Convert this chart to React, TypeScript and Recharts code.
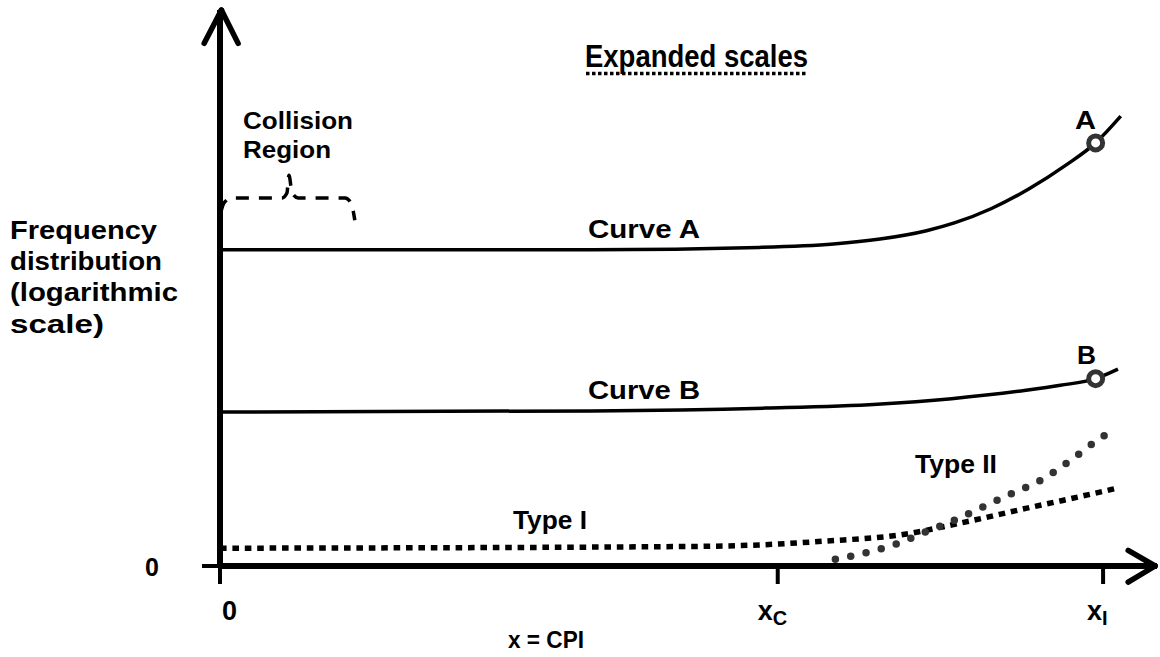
import { ComposedChart, Line, XAxis, YAxis, ReferenceLine, ReferenceDot, Customized } from "recharts";

// x = CPI (arbitrary units, xC = 60, xI = 95), y = frequency on a log scale (arbitrary units)
const X_TICKS = [0, 60, 95];
const X_TICK_LABELS = [["0", ""], ["x", "C"], ["x", "I"]];
const Y_TICKS = [0];

const CURVE_A_X = [0, 40, 58, 66, 71, 76, 79, 83, 87, 91, 94.2, 96.9];
const CURVE_A_Y = [56.9, 56.9, 57.3, 57.9, 58.8, 60.3, 61.7, 64.3, 67.8, 72.1, 76.1, 80.9];

const CURVE_B_X = [0, 40, 58.7, 70.7, 78.7, 86.7, 90.4, 94.2, 96.6];
const CURVE_B_Y = [27.7, 27.9, 28.4, 29.1, 30.1, 31.6, 32.5, 33.7, 35.4];

const TYPE1_X = [0, 50, 58.1, 65.3, 73.2, 79.6, 86.8, 90.4, 96.5];
const TYPE1_Y = [3.2, 3.5, 3.8, 4.5, 5.6, 7.7, 10.4, 11.7, 14.0];

const TYPE2_X = [66.2, 69.5, 72.8, 76.0, 79.2, 82.3, 85.4, 88.5, 91.4, 94.2, 95.6];
const TYPE2_Y = [1.2, 2.4, 4.0, 6.2, 8.4, 10.8, 13.2, 15.6, 18.9, 22.4, 24.0];

// bracket over the collision region
const COLL_X = [0.1, 0.43, 1.29, 6.67, 7.2, 7.42, 7.75, 8.4, 13.45, 14.1, 14.5];
const COLL_Y = [63.7, 65.3, 66.2, 66.2, 67.1, 70.3, 67.1, 66.2, 66.2, 65.3, 62.2];

const POINT_A = { x: 94.2, y: 76.1 };
const POINT_B = { x: 94.2, y: 33.7 };

const zip = (xs: number[], ys: number[]) => xs.map((x, i) => ({ x, y: ys[i] }));

const curveA = zip(CURVE_A_X, CURVE_A_Y);
const curveB = zip(CURVE_B_X, CURVE_B_Y);
const type1 = zip(TYPE1_X, TYPE1_Y);
const type2 = zip(TYPE2_X, TYPE2_Y);
const collision = zip(COLL_X, COLL_Y);

const FONT = "'Liberation Sans', Arial, Helvetica, sans-serif";

const T = ({ x, y, fs, w, children }: any) => (
  <text x={x} y={y} fontSize={fs} fontWeight="bold" fontFamily={FONT} fill="#000"
    textLength={w} lengthAdjust="spacingAndGlyphs">
    {children}
  </text>
);

const Annotations = () => (
  <g>
    <T x={585} y={67} fs={31} w={223}>Expanded scales</T>
    <line x1={586} x2={808} y1={73.5} y2={73.5} stroke="#000" strokeWidth={3.5} strokeDasharray="3.5 2.5" />
    <T x={243} y={129} fs={24} w={110}>Collision</T>
    <T x={243} y={158} fs={24} w={88}>Region</T>
    <T x={10} y={239} fs={26} w={147}>Frequency</T>
    <T x={10} y={270} fs={26} w={152}>distribution</T>
    <T x={10} y={301} fs={26} w={168}>(logarithmic</T>
    <T x={10} y={333} fs={26} w={94}>scale)</T>
    <T x={588} y={238} fs={25} w={112}>Curve A</T>
    <T x={588} y={399} fs={25} w={112}>Curve B</T>
    <T x={513} y={529} fs={25} w={74}>Type I</T>
    <T x={915} y={473} fs={25} w={82}>Type II</T>
    <T x={1075} y={129} fs={26} w={21}>A</T>
    <T x={1077} y={364} fs={26} w={19}>B</T>
    <T x={508} y={648} fs={24} w={76}>x = CPI</T>
  </g>
);

const XTick = ({ x, y, payload }: any) => {
  const i = X_TICKS.indexOf(payload.value);
  const [main, sub] = X_TICK_LABELS[i] || ["", ""];
  const dx = [2, -20, -16][i] ?? 0;
  return (
    <text x={x + dx} y={y + 34} fontSize={27} fontWeight="bold" fontFamily={FONT} fill="#000">
      {main}
      {sub && <tspan fontSize={20} dy={5}>{sub}</tspan>}
    </text>
  );
};

const YTick = ({ x, y, payload }: any) => (
  <text x={x - 41} y={y + 10} fontSize={25} fontWeight="bold" fontFamily={FONT} fill="#000" textAnchor="end">
    {payload.value}
  </text>
);

const arrow = { stroke: "#000", strokeWidth: 5.5, strokeLinecap: "round" as const, ifOverflow: "visible" as const };

export default function App() {
  return (
    <div style={{ position: "absolute", left: 0, top: 0, background: "#fff" }}>
      <ComposedChart width={1160} height={657} margin={{ top: 10, right: 3, left: 160, bottom: 31 }}>
        <XAxis type="number" dataKey="x" domain={[0, 100.8]} ticks={X_TICKS} allowDataOverflow
          height={60} tickSize={18} axisLine={{ stroke: "#000", strokeWidth: 6 }}
          tickLine={{ stroke: "#000", strokeWidth: 4 }} tick={<XTick />} interval={0} />
        <YAxis type="number" dataKey="y" domain={[0, 100]} ticks={Y_TICKS} allowDataOverflow
          width={60} tickSize={18} axisLine={{ stroke: "#000", strokeWidth: 6 }}
          tickLine={{ stroke: "#000", strokeWidth: 4 }} tick={<YTick />} />

        <Line data={collision} dataKey="y" type="monotone" stroke="#000" strokeWidth={3.5}
          strokeDasharray="13 10" dot={false} activeDot={false} isAnimationActive={false} />
        <Line data={curveA} dataKey="y" type="monotone" stroke="#000" strokeWidth={3.5}
          dot={false} activeDot={false} isAnimationActive={false} />
        <Line data={curveB} dataKey="y" type="monotone" stroke="#000" strokeWidth={3.5}
          dot={false} activeDot={false} isAnimationActive={false} />
        <Line data={type1} dataKey="y" type="monotone" stroke="#000" strokeWidth={5.5}
          strokeDasharray="6.6 5.8" dot={false} activeDot={false} isAnimationActive={false} />
        <Line data={type2} dataKey="y" type="monotone" stroke="#333" strokeWidth={7.5}
          strokeDasharray="0 15.7" strokeLinecap="round" dot={false} activeDot={false} isAnimationActive={false} />

        <ReferenceDot x={POINT_A.x} y={POINT_A.y} r={7} fill="#fff" stroke="#333" strokeWidth={5} />
        <ReferenceDot x={POINT_B.x} y={POINT_B.y} r={7} fill="#fff" stroke="#333" strokeWidth={5} />

        <ReferenceLine segment={[{ x: 97.7, y: 2.8 }, { x: 100.6, y: 0 }]} {...arrow} />
        <ReferenceLine segment={[{ x: 97.7, y: -2.9 }, { x: 100.6, y: 0 }]} {...arrow} />
        <ReferenceLine segment={[{ x: -1.7, y: 94.0 }, { x: 0.15, y: 100 }]} {...arrow} />
        <ReferenceLine segment={[{ x: 1.95, y: 94.0 }, { x: 0.15, y: 100 }]} {...arrow} />

        <Customized component={Annotations} />
      </ComposedChart>
    </div>
  );
}
